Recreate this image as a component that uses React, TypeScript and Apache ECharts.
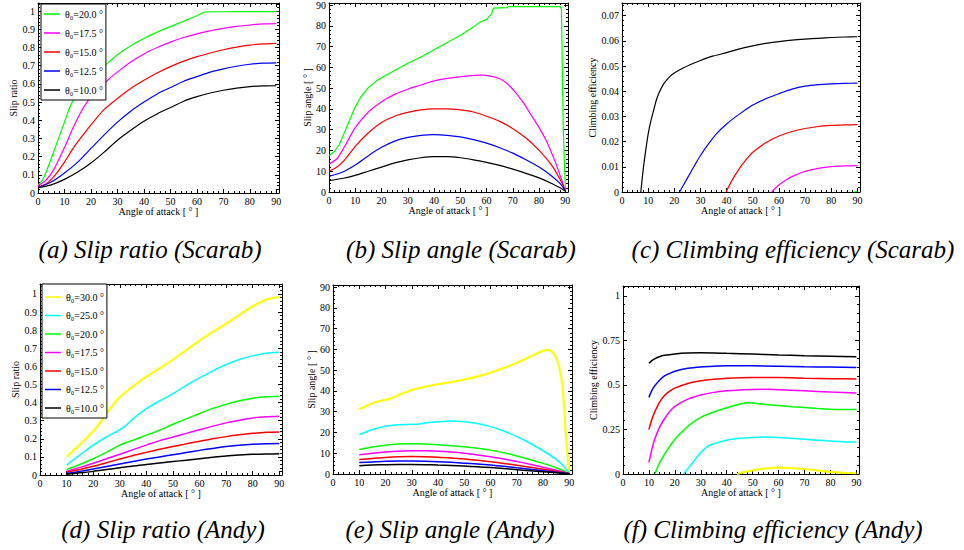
import React, { useEffect, useRef } from 'react';
import * as echarts from 'echarts';

// ---------- colours ----------
const GREEN = '#00ff00';
const MAGENTA = '#ff00ff';
const RED = '#ff0000';
const BLUE = '#0000ff';
const BLACK = '#000000';
const YELLOW = '#ffff00';
const CYAN = '#00ffff';

// ---------- series names ----------
const N30 = 'θ₀=30.0 °';
const N25 = 'θ₀=25.0 °';
const N20 = 'θ₀=20.0 °';
const N175 = 'θ₀=17.5 °';
const N15 = 'θ₀=15.0 °';
const N125 = 'θ₀=12.5 °';
const N10 = 'θ₀=10.0 °';

// ---------- (a) Slip ratio (Scarab) : [angle of attack, slip ratio] ----------
const aT20 = [[0,0.04],[2,0.08],[4,0.15],[6,0.23],[8,0.31],[10,0.39],[12,0.47],[14,0.53],[17,0.59],[20,0.635],[23.7,0.675],[26,0.71],[30,0.76],[35,0.81],[40,0.85],[45,0.885],[50,0.915],[55,0.945],[60,0.975],[63,0.995],[70,0.997],[80,0.998],[90,0.998]];
const aT175 = [[0,0.04],[3,0.07],[6,0.13],[10,0.25],[13,0.35],[16,0.44],[18.5,0.5],[21,0.545],[24,0.585],[27,0.63],[30,0.665],[35,0.72],[40,0.765],[45,0.8],[50,0.83],[55,0.855],[60,0.875],[65,0.892],[70,0.905],[75,0.916],[80,0.924],[85,0.93],[90,0.932]];
const aT15 = [[0,0.035],[3,0.05],[6,0.09],[10,0.17],[13,0.24],[16,0.3],[20,0.375],[25,0.46],[30,0.52],[35,0.575],[40,0.62],[45,0.66],[50,0.695],[55,0.725],[60,0.75],[65,0.77],[70,0.788],[75,0.802],[80,0.813],[85,0.82],[90,0.823]];
const aT125 = [[0,0.03],[5,0.06],[10,0.11],[15,0.17],[20,0.245],[25,0.32],[30,0.39],[35,0.45],[40,0.5],[45,0.545],[50,0.58],[55,0.615],[60,0.64],[65,0.665],[70,0.683],[75,0.697],[80,0.708],[85,0.714],[90,0.716]];
const aT10 = [[0,0.03],[5,0.045],[10,0.075],[15,0.115],[20,0.165],[25,0.225],[30,0.29],[35,0.345],[40,0.395],[45,0.435],[50,0.47],[55,0.505],[60,0.53],[65,0.55],[70,0.565],[75,0.577],[80,0.585],[85,0.589],[90,0.59]];

// ---------- (b) Slip angle (Scarab) : [angle of attack, slip angle] ----------
const bT20 = [[0,17.5],[2,19.5],[4,23],[6,29],[8,35],[10,41],[12,45.5],[15,50.2],[18,53.5],[20,55],[25,58.5],[30,62],[35,65],[40,68.5],[45,72],[50,75.5],[55,79.5],[57.8,82],[60,83],[62,86],[62.6,88.5],[67.7,88.8],[68.5,89.3],[88,89.3],[88.5,88],[89.2,30],[90,1]];
const bT175 = [[0,13.5],[3,16],[6,22],[10,31],[15,38.5],[20,43.5],[25,47],[30,49.5],[35,51.5],[40,53.5],[45,54.7],[50,55.5],[55,56.2],[58,56.3],[62,55.7],[65,54.5],[68,52],[71,48],[74,43],[77,37],[80,31],[83,24],[86,15],[88,8],[90,0.5]];
const bT15 = [[0,10],[3,12],[6,15.5],[10,22],[15,28.5],[20,33.5],[25,36.5],[30,38.3],[35,39.5],[40,40],[45,40],[50,39.5],[55,38.5],[60,36.5],[65,34],[70,30.5],[75,26],[80,20],[85,12.5],[88,6],[90,0.5]];
const bT125 = [[0,7.5],[5,9.5],[10,13],[15,17.5],[20,21.5],[25,24.5],[30,26.3],[35,27.3],[40,27.6],[45,27.3],[50,26.5],[55,25.2],[60,23.5],[65,21.3],[70,18.7],[75,15.5],[80,12],[85,7.5],[88,4],[90,0.5]];
const bT10 = [[0,5.5],[5,6.5],[10,8],[15,10],[20,12],[25,14],[30,15.5],[35,16.5],[40,17],[45,17],[50,16.5],[55,15.5],[60,14.3],[65,12.8],[70,11],[75,9],[80,6.8],[85,4],[88,2],[90,0.5]];

// ---------- (c) Climbing efficiency (Scarab) ----------
const cT20 = [[88.5,0],[90,0.0002]];
const cT175 = [[57.2,0],[60,0.0028],[63,0.005],[66,0.0066],[70,0.0082],[75,0.0094],[80,0.0101],[85,0.0104],[90,0.0105]];
const cT15 = [[39.8,0],[42,0.0045],[45,0.0095],[48,0.0135],[50,0.0158],[55,0.0195],[60,0.0222],[65,0.024],[70,0.0252],[75,0.026],[80,0.0264],[85,0.0266],[90,0.0267]];
const cT125 = [[22,0],[25,0.0055],[28,0.011],[30,0.0145],[33,0.019],[36,0.023],[40,0.027],[45,0.031],[50,0.0345],[55,0.037],[60,0.039],[65,0.0408],[70,0.042],[75,0.0426],[80,0.0429],[85,0.0431],[90,0.0432]];
const cT10 = [[7.2,0],[8,0.008],[9,0.016],[10,0.023],[11,0.028],[12,0.032],[13,0.036],[14,0.039],[16,0.043],[18,0.0455],[20,0.0472],[23,0.049],[26,0.0505],[30,0.0522],[35,0.054],[40,0.0553],[45,0.0568],[50,0.058],[55,0.059],[60,0.0597],[65,0.0603],[70,0.0607],[75,0.061],[80,0.0613],[85,0.0615],[90,0.0616]];

// ---------- (d) Slip ratio (Andy) ----------
const dT30 = [[10,0.1],[14,0.155],[18,0.21],[22.7,0.29],[26,0.36],[30,0.43],[35,0.49],[40,0.543],[45,0.59],[50,0.638],[55,0.69],[60,0.742],[65,0.79],[70,0.836],[75,0.885],[80,0.932],[85,0.968],[90,0.985]];
const dT25 = [[10,0.055],[15,0.11],[20,0.165],[25,0.21],[30,0.25],[32,0.27],[35,0.31],[40,0.366],[45,0.41],[50,0.45],[55,0.495],[60,0.536],[65,0.575],[70,0.61],[75,0.638],[80,0.658],[85,0.672],[90,0.678]];
const dT20 = [[10,0.03],[15,0.058],[20,0.09],[25,0.125],[30,0.165],[35,0.192],[40,0.22],[45,0.248],[48,0.267],[50,0.28],[55,0.31],[60,0.34],[65,0.368],[70,0.39],[75,0.41],[80,0.424],[85,0.432],[90,0.435]];
const dT175 = [[10,0.02],[15,0.042],[20,0.065],[25,0.09],[30,0.115],[35,0.14],[40,0.165],[45,0.19],[50,0.21],[55,0.23],[60,0.25],[65,0.27],[70,0.288],[75,0.303],[80,0.315],[85,0.322],[90,0.325]];
const dT15 = [[10,0.015],[15,0.03],[20,0.048],[25,0.068],[30,0.088],[35,0.108],[40,0.125],[45,0.142],[50,0.157],[55,0.172],[60,0.186],[65,0.2],[70,0.212],[75,0.222],[80,0.23],[85,0.236],[90,0.238]];
const dT125 = [[10,0.008],[15,0.02],[20,0.033],[25,0.047],[30,0.061],[35,0.075],[40,0.088],[45,0.1],[50,0.112],[55,0.124],[60,0.136],[65,0.147],[70,0.157],[75,0.165],[80,0.17],[85,0.173],[90,0.174]];
const dT10 = [[10,0.004],[15,0.012],[20,0.02],[25,0.03],[30,0.04],[35,0.05],[40,0.058],[45,0.066],[50,0.074],[55,0.082],[60,0.09],[65,0.098],[70,0.105],[75,0.11],[80,0.114],[85,0.116],[90,0.117]];

// ---------- (e) Slip angle (Andy) ----------
const eT30 = [[10,31.2],[13,33],[16,34.5],[19,35.5],[22,36.3],[25,38],[28,39.5],[30,40.5],[35,42],[40,43.2],[45,44.3],[50,45.5],[55,47],[60,48.8],[65,51],[70,53.5],[75,56.5],[78,58.3],[80,59.3],[82,59.8],[84.3,57.5],[86.2,51],[87.5,40.6],[88.5,21.3],[89.3,9],[90,0.5]];
const eT25 = [[10,19],[13,20.5],[16,21.8],[20,23],[25,23.7],[30,24],[32,24],[35,24.5],[40,25.1],[45,25.5],[50,25.2],[55,24.3],[60,22.8],[65,20.7],[70,18],[75,14.8],[80,11.2],[85,7],[88,3.5],[90,0.3]];
const eT20 = [[10,11.8],[15,13],[20,13.9],[25,14.4],[30,14.6],[35,14.5],[40,14.1],[45,13.6],[50,13.1],[55,12.4],[60,11.5],[65,10.2],[70,8.7],[75,7],[80,5.1],[85,3],[90,0.2]];
const eT175 = [[10,9.3],[15,10],[20,10.6],[25,11],[30,11.2],[35,11.2],[40,11],[45,10.6],[50,10],[55,9.2],[60,8.3],[65,7.2],[70,6],[75,4.7],[80,3.3],[85,1.8],[90,0.2]];
const eT15 = [[10,7],[15,7.5],[20,8],[25,8.3],[30,8.4],[35,8.3],[40,8.1],[45,7.7],[50,7.2],[55,6.6],[60,5.9],[65,5.1],[70,4.2],[75,3.3],[80,2.3],[85,1.2],[90,0.1]];
const eT125 = [[10,5.5],[15,5.8],[20,6.1],[25,6.2],[30,6.2],[35,6.1],[40,5.9],[45,5.6],[50,5.2],[55,4.8],[60,4.3],[65,3.7],[70,3],[75,2.3],[80,1.6],[85,0.8],[90,0.1]];
const eT10 = [[10,4],[15,4.3],[20,4.5],[25,4.6],[30,4.6],[35,4.5],[40,4.3],[45,4.1],[50,3.8],[55,3.5],[60,3.1],[65,2.6],[70,2.1],[75,1.6],[80,1.1],[85,0.6],[90,0.1]];

// ---------- (f) Climbing efficiency (Andy) ----------
const fT30 = [[44,0],[47,0.012],[50,0.02],[55,0.031],[60,0.036],[65,0.034],[70,0.028],[75,0.02],[80,0.012],[85,0.007],[90,0.004]];
const fT25 = [[23.3,0],[25,0.03],[28,0.085],[30,0.12],[32.5,0.155],[35,0.17],[40,0.19],[45,0.2],[50,0.205],[55,0.207],[60,0.205],[65,0.2],[70,0.195],[75,0.19],[80,0.185],[85,0.181],[90,0.179]];
const fT20 = [[12.3,0],[14,0.06],[16,0.11],[18,0.155],[20,0.195],[23,0.24],[26,0.28],[30,0.318],[35,0.348],[40,0.372],[45,0.392],[48,0.4],[50,0.398],[55,0.39],[60,0.384],[65,0.378],[70,0.373],[75,0.368],[80,0.364],[85,0.362],[90,0.362]];
const fT175 = [[10,0.065],[11,0.13],[12,0.185],[14,0.26],[16,0.31],[18,0.35],[20,0.38],[25,0.42],[30,0.443],[35,0.458],[40,0.467],[45,0.472],[50,0.474],[55,0.475],[60,0.473],[70,0.467],[80,0.46],[90,0.455]];
const fT15 = [[10,0.25],[11,0.3],[12,0.34],[14,0.4],[16,0.44],[18,0.465],[20,0.482],[25,0.508],[30,0.523],[35,0.532],[40,0.538],[50,0.542],[60,0.541],[70,0.538],[80,0.535],[90,0.533]];
const fT125 = [[10,0.43],[11,0.465],[12,0.49],[14,0.525],[16,0.55],[18,0.565],[20,0.577],[25,0.593],[30,0.601],[35,0.605],[40,0.607],[50,0.607],[60,0.605],[70,0.602],[80,0.6],[90,0.598]];
const fT10 = [[10,0.621],[11,0.635],[12,0.645],[14,0.658],[16,0.666],[20,0.674],[25,0.679],[30,0.68],[35,0.679],[40,0.677],[50,0.673],[60,0.668],[70,0.664],[80,0.661],[90,0.658]];

// ---------- axis texts ----------
const X_NAME = 'Angle of attack [ ° ]';
const CAPTIONS = [
  '(a) Slip ratio (Scarab)',
  '(b) Slip angle (Scarab)',
  '(c) Climbing efficiency (Scarab)',
  '(d) Slip ratio (Andy)',
  '(e) Slip angle (Andy)',
  '(f) Climbing efficiency (Andy)',
];

const FONT = 'Times New Roman';

type S = [string, string, number[][], boolean?];

const panels = [
  { grid: { left: 38, top: 3, width: 241, height: 190 }, yMax: 1.045, yInt: 0.1, yMinor: 0.02, yName: 'Slip ratio', yGap: 17, lw: 1.2,
    series: [[N20, GREEN, aT20], [N175, MAGENTA, aT175], [N15, RED, aT15], [N125, BLUE, aT125], [N10, BLACK, aT10]] as S[] },
  { grid: { left: 329, top: 3, width: 239, height: 189 }, yMax: 91, yInt: 10, yMinor: 2, yName: 'Slip angle [ ° ]', yGap: 9, lw: 1.2,
    series: [[N20, GREEN, bT20, false], [N175, MAGENTA, bT175], [N15, RED, bT15], [N125, BLUE, bT125], [N10, BLACK, bT10]] as S[] },
  { grid: { left: 622, top: 3, width: 238, height: 189 }, yMax: 0.075, yInt: 0.01, yMinor: 0.002, yName: 'Climbing efficiency', yGap: 20, lw: 1.2,
    series: [[N20, GREEN, cT20], [N175, MAGENTA, cT175], [N15, RED, cT15], [N125, BLUE, cT125], [N10, BLACK, cT10]] as S[] },
  { grid: { left: 40, top: 284, width: 242, height: 191 }, yMax: 1.055, yInt: 0.1, yMinor: 0.02, yName: 'Slip ratio', yGap: 17, lw: 1.5,
    series: [[N30, YELLOW, dT30], [N25, CYAN, dT25], [N20, GREEN, dT20], [N175, MAGENTA, dT175], [N15, RED, dT15], [N125, BLUE, dT125], [N10, BLACK, dT10]] as S[] },
  { grid: { left: 333, top: 285, width: 239, height: 189 }, yMax: 91, yInt: 10, yMinor: 2, yName: 'Slip angle [ ° ]', yGap: 13, lw: 1.5,
    series: [[N30, YELLOW, eT30], [N25, CYAN, eT25], [N20, GREEN, eT20], [N175, MAGENTA, eT175], [N15, RED, eT15], [N125, BLUE, eT125], [N10, BLACK, eT10]] as S[] },
  { grid: { left: 623, top: 286, width: 236, height: 188 }, yMax: 1.055, yInt: 0.25, yMinor: 0.05, yName: 'Climbing efficiency', yGap: 23, lw: 1.5,
    series: [[N30, YELLOW, fT30], [N25, CYAN, fT25], [N20, GREEN, fT20], [N175, MAGENTA, fT175], [N15, RED, fT15], [N125, BLUE, fT125], [N10, BLACK, fT10]] as S[] },
];

const CAPTION_POS = [
  [150, 249], [461, 249], [793, 249],
  [163, 529], [450, 529], [773, 529],
];

function axisSet(dim: 'x' | 'y', gridIndex: number, max: number, major: number, minor: number, name: string, gap: number) {
  const pos = dim === 'x' ? ['bottom', 'top'] : ['left', 'right'];
  const base = {
    type: 'value', gridIndex, min: 0, max,
    axisLine: { show: true, onZero: false, lineStyle: { color: '#000', width: 1 } },
    splitLine: { show: false },
  };
  const out: any[] = [];
  pos.forEach((p, k) => {
    out.push({
      ...base, position: p, interval: major,
      axisTick: { show: true, inside: true, length: 4, lineStyle: { color: '#000', width: 1 } },
      axisLabel: k === 0
        ? { show: true, showMaxLabel: false, margin: 3, fontSize: 10, color: '#000', fontFamily: FONT }
        : { show: false },
      name: k === 0 ? name : '',
      nameLocation: 'middle', nameGap: gap,
      nameTextStyle: { fontSize: 10, color: '#000', fontFamily: FONT },
    });
    out.push({
      ...base, position: p, interval: minor,
      axisLine: { show: false, onZero: false },
      axisTick: { show: true, inside: true, length: 2, lineStyle: { color: '#000', width: 1 } },
      axisLabel: { show: false },
    });
  });
  return out;
}

const legendCommon = {
  orient: 'vertical',
  selectedMode: false,
  backgroundColor: '#fff',
  borderColor: '#000',
  borderWidth: 1,
  borderRadius: 0,
  icon: 'rect',
  itemWidth: 16,
  itemHeight: 1.5,
  textStyle: { color: '#000', fontFamily: FONT, fontSize: 10, lineHeight: 12 },
};

export default function App() {
  const ref = useRef<HTMLDivElement>(null);
  useEffect(() => {
    if (!ref.current) return;
    const chart = echarts.init(ref.current, undefined, { renderer: 'svg' });
    const xAxis: any[] = [];
    const yAxis: any[] = [];
    const series: any[] = [];
    panels.forEach((p, i) => {
      xAxis.push(...axisSet('x', i, 91, 10, 2, X_NAME, 12));
      yAxis.push(...axisSet('y', i, p.yMax, p.yInt, p.yMinor, p.yName, p.yGap));
      p.series.forEach(([name, color, data, smooth]) => {
        series.push({
          type: 'line', name, data, xAxisIndex: i * 4, yAxisIndex: i * 4,
          symbol: 'none', smooth: smooth === false ? false : 0.25,
          lineStyle: { color, width: color === YELLOW ? p.lw + 0.6 : p.lw },
          itemStyle: { color },
          z: 2,
        });
      });
    });
    chart.setOption({
      animation: false,
      textStyle: { fontFamily: FONT },
      grid: panels.map((p) => ({ ...p.grid, containLabel: false })),
      xAxis, yAxis, series,
      legend: [
        { ...legendCommon, left: 41, top: 4, padding: [4, 3, 4, 3], itemGap: 7, data: [N20, N175, N15, N125, N10] },
        { ...legendCommon, left: 42, top: 284, padding: [7, 3, 4, 3], itemGap: 6.5, data: [N30, N25, N20, N175, N15, N125, N10] },
      ],
      graphic: CAPTIONS.map((t, i) => ({
        type: 'text', x: CAPTION_POS[i][0], y: CAPTION_POS[i][1],
        style: { text: t, fontSize: 25, fontStyle: 'italic', fontFamily: FONT, fill: '#000', align: 'center', verticalAlign: 'middle' },
      })),
    });
    return () => chart.dispose();
  }, []);
  return <div ref={ref} style={{ position: 'absolute', left: 0, top: 0, width: 964, height: 550 }} />;
}
